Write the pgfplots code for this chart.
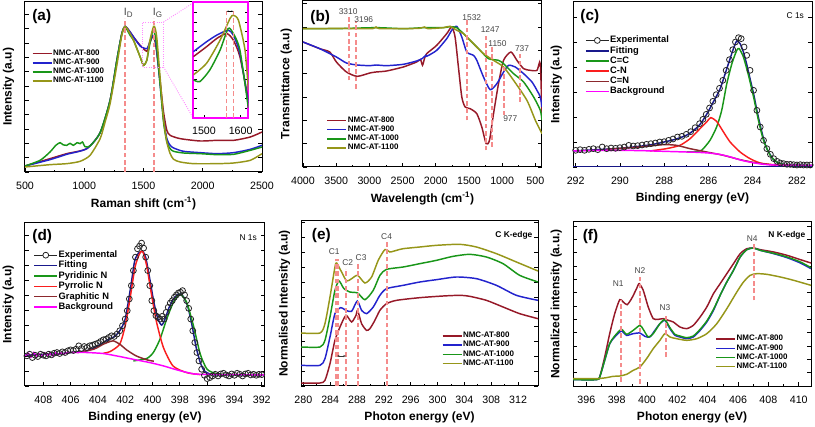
\documentclass[border=0pt]{standalone}
\usepackage{fontspec}
\setmainfont{Liberation Sans}
\usepackage{pgfplots}
\pgfplotsset{compat=1.18}
\usetikzlibrary{arrows.meta}

\definecolor{c800}{RGB}{150,25,40}
\definecolor{c900}{RGB}{35,35,205}
\definecolor{c1000}{RGB}{25,150,25}
\definecolor{c1100}{RGB}{150,150,25}
\definecolor{fitc}{RGB}{25,25,140}
\definecolor{cnred}{RGB}{250,30,30}
\definecolor{cnbrown}{RGB}{140,40,45}
\definecolor{bgmag}{RGB}{255,0,255}
\definecolor{dashc}{RGB}{245,140,140}
\definecolor{annc}{RGB}{70,70,70}

\tikzset{
  plab/.style={font=\bfseries\fontsize{11.5}{12}\selectfont, inner sep=0pt, anchor=west},
  ann/.style={font=\fontsize{6.3}{7}\selectfont, text=annc, inner sep=0.5pt},
}
\pgfplotsset{
  panel/.style={
    scale only axis, anchor=north west, clip=true,
    axis line style={line width=0.75pt},
    tick align=inside, xtick pos=left, ytick pos=both,
    major tick length=3.2pt, minor tick length=1.8pt,
    every tick/.append style={black, line width=0.5pt},
    yticklabels={},
    ticklabel style={font=\fontsize{8}{9}\selectfont},
    xticklabel style={anchor=center, yshift=-10pt},
    /pgf/number format/assume math mode=true,
    /pgf/number format/1000 sep={},
    xlabel style={font=\bfseries\fontsize{9}{10}\selectfont, at={(rel axis cs:0.5,0)}, anchor=center, yshift=-23.5pt},
    ylabel style={font=\bfseries\fontsize{9}{10}\selectfont, at={(rel axis cs:-0.07,0.5)}, anchor=center},
    legend style={draw=none, fill=none, font=\bfseries\fontsize{6}{6.5}\selectfont,
      row sep=0pt, inner sep=0pt, nodes={inner sep=0.6pt}},
    legend cell align=left,
    legend image code/.code={\draw[#1] (0cm,0cm) -- (0.5cm,0cm);},
    every axis plot/.append style={line width=1.1pt, smooth, tension=0.4},
  },
  dl/.style={dashc, dash pattern=on 3.5pt off 2pt, line width=1.5pt, forget plot, sharp plot},
  expt/.style={black!85, only marks, mark=o, mark size=2.2pt, mark options={line width=0.6pt},
    legend image code/.code={\draw[black!85, line width=0.8pt] (0cm,0cm) -- (0.6cm,0cm);
      \draw[black!85, line width=0.6pt, fill=white] (0.3cm,0cm) circle (2.2pt);}},
}

\begin{document}
\begin{tikzpicture}
\useasboundingbox (0,0) rectangle (611.25pt,-320.25pt);

% ---------------- (a) Raman ----------------
\begin{axis}[panel, at={(18.75pt,-1.5pt)}, width=177.75pt, height=127.5pt,
  xmin=500, xmax=2500, ymin=0, ymax=510,
  xtick={500,1000,...,2500}, minor x tick num=1, ytick distance=43,
  xlabel={Raman shift (cm\textsuperscript{-1})}, ylabel={Intensity (a.u)},
  legend style={at={(rel axis cs:0.028,0.725)}, anchor=north west}]
\addplot[c800] coordinates {(500,18)(711,40)(852,55)(1021,70)(1134,118)(1218,215)(1275,335)(1317,415)(1345,437)(1387,420)(1416,405)(1472,380)(1528,362)(1551,385)(1579,407)(1599,390)(1613,355)(1641,270)(1669,180)(1697,125)(1725,110)(1810,100)(1979,93)(2120,95)(2261,95)(2401,105)(2500,120)};
\addplot[c900] coordinates {(500,18)(711,37)(852,53)(1021,70)(1134,118)(1218,215)(1275,335)(1317,415)(1345,437)(1387,420)(1416,405)(1472,378)(1528,370)(1551,388)(1579,410)(1599,395)(1613,360)(1641,260)(1669,160)(1697,100)(1725,80)(1754,72)(1838,62)(1979,58)(2120,55)(2261,58)(2401,68)(2500,80)};
\addplot[c1000] coordinates {(500,18)(627,35)(711,60)(760,80)(796,88)(820,82)(852,80)(880,86)(908,80)(940,88)(965,85)(985,90)(1007,76)(1049,78)(1134,118)(1218,215)(1275,335)(1317,415)(1345,435)(1387,410)(1416,395)(1472,345)(1500,320)(1528,335)(1551,380)(1579,425)(1599,410)(1613,370)(1641,260)(1669,150)(1697,90)(1725,70)(1754,62)(1838,57)(1979,55)(2120,52)(2261,53)(2401,65)(2500,75)};
\addplot[c1100] coordinates {(500,15)(711,22)(852,25)(965,32)(1049,50)(1134,100)(1176,150)(1218,205)(1275,320)(1317,410)(1345,437)(1387,415)(1416,395)(1472,345)(1500,320)(1528,335)(1551,390)(1585,437)(1599,430)(1613,400)(1641,280)(1669,160)(1697,90)(1725,55)(1754,38)(1810,30)(1923,25)(2120,25)(2261,27)(2401,35)(2500,55)};
\legend{NMC-AT-800,NMC-AT-900,NMC-AT-1000,NMC-AT-1100}
\addplot[dl] coordinates {(1345,0)(1345,462)};
\addplot[dl] coordinates {(1585,0)(1585,462)};
\node[ann, font=\fontsize{8}{9}\selectfont] at (axis cs:1375,478) {I\textsubscript{D}};
\node[ann, font=\fontsize{8}{9}\selectfont] at (axis cs:1620,478) {I\textsubscript{G}};
\draw[bgmag!45, densely dotted, line width=0.7pt] (axis cs:1494,315) rectangle (axis cs:1669,450);
\draw[bgmag!45, densely dotted, line width=0.7pt] (axis cs:1669,450) -- (axis cs:1923,508);
\draw[bgmag!45, densely dotted, line width=0.7pt] (axis cs:1669,315) -- (axis cs:1923,160);
\node[plab] at (rel axis cs:0.03,0.915) {(a)};
\end{axis}

% inset of (a)
\begin{axis}[panel, at={(145pt,-1.5pt)}, width=41.25pt, height=87pt,
  axis line style={bgmag, line width=1.4pt}, axis background/.style={fill=white},
  xmin=1471, xmax=1621, ymin=0, ymax=350, xtick={1500,1600}, ytick distance=29,
  major tick length=2.5pt]
\addplot[c800] coordinates {(1471,185)(1507,215)(1535,240)(1562,255)(1580,235)(1598,185)(1621,55)};
\addplot[c900] coordinates {(1471,200)(1507,230)(1535,250)(1566,265)(1580,250)(1598,195)(1621,45)};
\addplot[c1000] coordinates {(1471,115)(1489,110)(1516,145)(1544,205)(1566,270)(1580,255)(1598,205)(1621,30)};
\addplot[c1100] coordinates {(1471,130)(1507,165)(1544,235)(1571,300)(1580,310)(1594,295)(1612,205)(1621,85)};
\addplot[dl, line width=1.1pt] coordinates {(1562,0)(1562,330)};
\addplot[dl, line width=1.1pt] coordinates {(1580,0)(1580,330)};
\draw[{Stealth[length=1.5pt]}-{Stealth[length=1.5pt]}, line width=0.5pt] (axis cs:1562,322) -- (axis cs:1580,322);
\end{axis}

% ---------------- (b) FTIR ----------------
\begin{axis}[panel, at={(227.25pt,-0.75pt)}, width=179.25pt, height=124.5pt,
  xmin=400, xmax=4000, x dir=reverse, ymin=0, ymax=498,
  xtick={500,1000,...,4000}, minor x tick num=1, ytick distance=70,
  xlabel={Wavelength (cm\textsuperscript{-1})}, ylabel={Transmittance (a.u)},
  legend style={at={(rel axis cs:0.098,0.31)}, anchor=north west}]
\addplot[c800] coordinates {(4000,375)(3748,355)(3597,345)(3497,315)(3346,285)(3184,272)(2993,282)(2900,285)(2741,288)(2490,300)(2288,315)(2230,322)(2200,305)(2170,325)(2137,340)(1986,365)(1835,400)(1760,420)(1709,390)(1659,300)(1608,210)(1558,180)(1483,175)(1382,160)(1307,120)(1241,70)(1191,80)(1130,160)(1055,250)(979,320)(868,345)(778,320)(677,295)(576,290)(476,290)(435,315)(420,290)(400,150)};
\addplot[c900] coordinates {(4000,375)(3748,355)(3497,330)(3346,312)(3184,306)(2993,304)(2900,306)(2741,304)(2490,308)(2288,318)(2200,326)(2150,335)(2137,332)(1986,350)(1835,385)(1760,410)(1684,422)(1608,390)(1533,345)(1432,335)(1382,320)(1281,270)(1181,232)(1080,250)(979,285)(904,305)(803,300)(677,280)(551,255)(476,230)(425,210)(400,180)};
\addplot[c1000] coordinates {(4000,415)(3497,415)(2900,418)(2490,415)(2170,418)(1885,418)(1785,421)(1684,418)(1583,400)(1483,380)(1332,350)(1206,325)(1055,320)(979,310)(828,280)(677,255)(526,210)(425,170)(400,140)};
\addplot[c1100] coordinates {(4000,415)(3748,415)(3497,416)(3200,415)(2950,415)(2900,420)(2850,415)(2490,415)(2250,416)(2170,420)(2120,415)(1885,418)(1785,422)(1684,410)(1583,400)(1432,370)(1281,340)(1130,320)(979,300)(828,260)(627,200)(500,140)(400,100)};
\legend{NMC-AT-800,NMC-AT-900,NMC-AT-1000,NMC-AT-1100}
\addplot[dl] coordinates {(3310,260)(3310,455)};
\addplot[dl] coordinates {(3196,235)(3196,438)};
\addplot[dl] coordinates {(1532,140)(1532,440)};
\addplot[dl] coordinates {(1247,50)(1247,400)};
\addplot[dl] coordinates {(1150,60)(1150,360)};
\addplot[dl] coordinates {(977,155)(977,305)};
\addplot[dl] coordinates {(737,195)(737,340)};
\node[ann] at (axis cs:3320,466) {3310};
\node[ann] at (axis cs:3084,441) {3196};
\node[ann] at (axis cs:1457,449) {1532};
\node[ann] at (axis cs:1181,413) {1247};
\node[ann] at (axis cs:1070,371) {1150};
\node[ann] at (axis cs:700,356) {737};
\node[ann] at (axis cs:878,146) {977};
\node[plab] at (rel axis cs:0.03,0.9) {(b)};
\end{axis}

% ---------------- (c) C 1s ----------------
\begin{axis}[panel, at={(429.75pt,-1.5pt)}, width=179.25pt, height=123.75pt,
  xmin=281.32, xmax=292.12, x dir=reverse, ymin=0, ymax=495,
  xtick={282,284,...,292}, minor x tick num=1, ytick distance=75,
  xlabel={Binding energy (eV)}, ylabel={Intensity (a.u)},
  legend style={at={(rel axis cs:0.05,0.80)}, anchor=north west, font=\bfseries\fontsize{7}{7.6}\selectfont},
  legend image code/.code={\draw[#1] (0cm,0cm) -- (0.6cm,0cm);}]
\addplot[expt] coordinates {(292.0,50)(291.8,52)(291.6,50)(291.4,53)(291.2,55)(291.0,52)(290.8,60)(290.6,55)(290.4,57)(290.2,56)(290.0,58)(289.8,60)(289.6,65)(289.4,63)(289.2,64)(289.0,66)(288.8,68)(288.6,70)(288.4,72)(288.2,75)(288.0,76)(287.8,80)(287.6,84)(287.4,90)(287.2,92)(287.0,98)(286.8,106)(286.6,118)(286.4,130)(286.25,143)(286.1,158)(285.95,177)(285.8,197)(285.65,217)(285.5,236)(285.35,260)(285.2,290)(285.05,322)(284.9,352)(284.78,375)(284.64,388)(284.52,385)(284.39,360)(284.27,335)(284.12,290)(283.96,230)(283.81,170)(283.66,120)(283.51,80)(283.36,55)(283.2,38)(283.05,25)(282.9,17)(282.75,12)(282.6,10)(282.45,8)(282.3,8)(282.15,7)(282.0,6)(281.85,7)(281.7,6)(281.55,6)(281.4,6)};
\addlegendentry{Experimental}
\addplot[fitc] coordinates {(292.12,48)(291,52)(290,56)(289,63)(288.5,68)(288,75)(287.5,83)(287,95)(286.7,108)(286.38,128)(286.08,158)(285.78,195)(285.47,235)(285.17,295)(284.87,355)(284.72,378)(284.57,370)(284.42,345)(284.27,308)(284.12,265)(283.96,220)(283.81,170)(283.66,125)(283.51,85)(283.36,55)(283.06,22)(282.76,10)(282.3,6)(281.32,5)};
\addlegendentry{Fitting}
\addplot[c1000] coordinates {(287.0,45)(286.6,46)(286.31,50)(285.93,80)(285.63,120)(285.4,170)(285.17,250)(284.94,310)(284.72,350)(284.61,355)(284.42,330)(284.19,275)(283.96,210)(283.74,140)(283.51,80)(283.21,35)(282.91,15)(282.45,5)(281.32,4)};
\addlegendentry{C=C}
\addplot[cnred] coordinates {(288.65,48)(287.9,55)(287.29,65)(286.83,85)(286.38,115)(286.08,135)(285.9,148)(285.63,137)(285.32,105)(285.02,75)(284.57,45)(284.12,25)(283.66,12)(283.06,7)(282.3,5)};
\addlegendentry{C-N}
\addplot[cnbrown] coordinates {(290.61,53)(289.10,60)(288.04,67)(287.44,65)(286.83,55)(286.08,45)(285.32,35)(284.57,22)(283.81,12)(283.06,6)(282.5,5)};
\addlegendentry{C=N}
\addplot[bgmag] coordinates {(292.12,48)(291,50)(290,50)(289,49)(288,47)(287,45)(286.5,44)(286,42)(285.5,38)(285,30)(284.5,20)(284,13)(283.5,8)(283,6)(281.32,5)};
\addlegendentry{Background}
\addplot[c900, forget plot, line width=0.7pt] coordinates {(292.12,3)(281.32,3)};
\node[ann, text=black, anchor=east] at (rel axis cs:0.97,0.92) {C 1s};
\node[plab] at (rel axis cs:0.03,0.91) {(c)};
\end{axis}

% ---------------- (d) N 1s ----------------
\begin{axis}[panel, at={(18.75pt,-167.25pt)}, width=180pt, height=122.25pt,
  xmin=391.76, xmax=409.34, x dir=reverse, ymin=0, ymax=487,
  xtick={392,394,...,408}, minor x tick num=1, ytick distance=45,
  xlabel={Binding energy (eV)}, ylabel={Intensity (a.u)},
  legend style={at={(rel axis cs:0.035,0.836)}, anchor=north west, font=\bfseries\fontsize{7}{7.6}\selectfont},
  legend image code/.code={\draw[#1] (0cm,0cm) -- (0.6cm,0cm);}]
\addplot[expt] coordinates {(409.2,90)(409.0,95)(408.8,85)(408.6,92)(408.4,88)(408.2,95)(408.0,92)(407.8,90)(407.6,95)(407.4,93)(407.2,98)(407.0,100)(406.8,97)(406.6,102)(406.4,100)(406.2,105)(406.0,108)(405.8,106)(405.6,110)(405.4,120)(405.2,112)(405.0,118)(404.8,115)(404.6,120)(404.4,122)(404.2,125)(404.0,128)(403.8,133)(403.6,138)(403.4,140)(403.2,145)(403.0,150)(402.8,148)(402.6,155)(402.4,165)(402.2,180)(402.0,200)(401.85,225)(401.7,260)(401.55,300)(401.4,345)(401.25,385)(401.1,410)(400.95,418)(400.8,427)(400.65,412)(400.5,385)(400.35,345)(400.2,300)(400.05,255)(399.9,225)(399.75,210)(399.6,205)(399.45,200)(399.3,208)(399.15,200)(399.0,220)(398.85,235)(398.7,248)(398.55,255)(398.4,265)(398.25,272)(398.1,278)(397.95,280)(397.8,285)(397.65,272)(397.5,255)(397.35,232)(397.2,200)(397.05,165)(396.9,130)(396.75,100)(396.6,75)(396.4,50)(396.2,32)(396.0,22)(395.8,25)(395.6,30)(395.4,35)(395.2,30)(395.0,36)(394.8,38)(394.6,33)(394.4,30)(394.2,36)(394.0,32)(393.8,38)(393.6,35)(393.4,30)(393.2,36)(393.0,38)(392.8,33)(392.6,35)(392.4,32)(392.2,35)(392.0,34)};
\addlegendentry{Experimental}
\addplot[fitc] coordinates {(409.34,92)(407,96)(406,100)(404.8,105)(404,120)(403.2,140)(402.8,147)(402.4,165)(402.0,200)(401.6,295)(401.3,375)(401.0,398)(400.72,402)(400.5,385)(400.2,320)(399.9,250)(399.6,200)(399.33,182)(399.1,198)(398.8,233)(398.5,258)(398.2,272)(397.95,275)(397.7,265)(397.4,235)(397.1,180)(396.8,115)(396.5,70)(396.2,45)(395.8,36)(395.3,33)(391.76,33)};
\addlegendentry{Fitting}
\addplot[c1000] coordinates {(401.4,75)(400.43,82)(399.94,100)(399.45,140)(398.96,200)(398.47,250)(397.99,274)(397.5,250)(397.0,180)(396.5,95)(396.0,50)(395.3,37)(394.0,33)};
\addlegendentry{Pyridinic N}
\addplot[cnred] coordinates {(403.6,98)(403.1,103)(402.4,125)(402.0,180)(401.65,260)(401.28,355)(400.95,395)(400.72,402)(400.43,360)(400.06,270)(399.7,190)(399.2,115)(398.5,60)(397.5,40)(396.5,34)};
\addlegendentry{Pyrrolic N}
\addplot[cnbrown] coordinates {(405.5,100)(404.3,110)(403.6,125)(403.1,133)(402.87,135)(402.4,125)(401.9,108)(401.2,90)(400.4,78)(399.9,74)};
\addlegendentry{Graphitic N}
\addplot[bgmag] coordinates {(409.3,90)(409.1,98)(408.9,86)(408.7,100)(408.5,90)(408.3,96)(408.1,88)(407.9,99)(407.7,92)(407.5,97)(407.3,90)(407.1,100)(406.9,94)(406.7,99)(406.5,95)(406.3,100)(405.5,100)(404.8,100)(403.6,97)(402.4,88)(401.2,78)(400.2,70)(399.2,60)(398.2,48)(397.2,38)(396.5,35)(391.76,33)};
\addlegendentry{Background}
\node[ann, text=black, anchor=east] at (rel axis cs:0.97,0.91) {N 1s};
\node[plab] at (rel axis cs:0.03,0.92) {(d)};
\end{axis}

% ---------------- (e) C K-edge ----------------
\begin{axis}[panel, at={(225.75pt,-165.75pt)}, width=177.75pt, height=123.75pt,
  xmin=279.65, xmax=314.97, ymin=0, ymax=495,
  xtick={280,284,...,312}, minor x tick num=1, ytick distance=44.5,
  xlabel={Photon energy (eV)}, ylabel={Normalised Intensity (a.u)},
  legend style={at={(rel axis cs:0.593,0.333)}, anchor=north west}]
\addplot[c800] coordinates {(279.65,9)(282.48,9)(283.22,17)(283.97,67)(284.71,137)(285.46,177)(286.35,212)(287.19,192)(287.84,212)(288.09,227)(288.68,187)(289.42,167)(289.92,172)(290.66,197)(291.41,227)(292.40,247)(293.89,257)(297.36,265)(300.83,270)(303.31,272)(304.80,269)(307.28,257)(309.76,237)(312.24,217)(314.97,202)};
\addplot[c900] coordinates {(279.65,62)(282.48,62)(283.22,82)(283.97,147)(284.71,217)(285.56,235)(286.35,227)(287.19,224)(288.04,255)(288.68,227)(289.42,217)(290.42,237)(291.41,272)(292.40,292)(294.88,302)(297.36,312)(299.84,319)(302.82,327)(305.79,322)(308.77,302)(311.75,272)(314.97,257)};
\addplot[c1000] coordinates {(279.65,117)(282.48,117)(283.22,137)(283.97,207)(284.71,287)(285.31,315)(286.05,292)(286.94,282)(288.09,279)(289.18,259)(290.42,287)(291.41,332)(292.40,350)(294.88,357)(297.36,367)(299.84,377)(302.32,389)(304.80,395)(307.28,387)(309.76,367)(312.24,332)(314.97,312)};
\addplot[c1100] coordinates {(279.65,159)(282.48,159)(283.22,187)(283.97,267)(284.71,357)(284.96,369)(285.70,342)(286.45,315)(287.19,322)(288.09,332)(289.18,309)(290.17,327)(291.16,377)(292.15,409)(292.9,402)(293.89,407)(294.88,412)(297.36,417)(299.84,422)(303.31,425)(305.79,417)(308.77,397)(311.75,372)(314.97,345)};
\legend{NMC-AT-800,NMC-AT-900,NMC-AT-1000,NMC-AT-1100}
\addplot[dl] coordinates {(284.85,0)(284.85,382)};
\addplot[dl] coordinates {(285.15,0)(285.15,382)};
\addplot[dl] coordinates {(286.35,0)(286.35,352)};
\addplot[dl] coordinates {(288.09,0)(288.09,372)};
\addplot[dl] coordinates {(292.4,0)(292.4,432)};
\draw[{Stealth[length=2pt]}-{Stealth[length=2pt]}, line width=0.5pt, black!80] (axis cs:285.0,90) -- (axis cs:286.35,90);
\node[ann] at (axis cs:284.6,402) {C1};
\node[ann] at (axis cs:286.6,370) {C2};
\node[ann] at (axis cs:288.6,385) {C3};
\node[ann] at (axis cs:292.4,447) {C4};
\node[ann, text=black, font=\bfseries\fontsize{6.3}{7}\selectfont, anchor=east] at (rel axis cs:0.98,0.91) {C K-edge};
\node[plab] at (rel axis cs:0.045,0.91) {(e)};
\end{axis}

% ---------------- (f) N K-edge ----------------
\begin{axis}[panel, at={(429.75pt,-166.5pt)}, width=178.5pt, height=123pt,
  xmin=395.12, xmax=410.81, ymin=0, ymax=492,
  xtick={396,398,...,410}, minor x tick num=1, ytick distance=40,
  xlabel={Photon energy (eV)}, ylabel={Normalized intensity (a.u.)},
  legend style={at={(rel axis cs:0.597,0.315)}, anchor=north west}]
\addplot[c800] coordinates {(395.12,22)(396.66,20)(396.88,27)(397.21,87)(397.54,157)(397.87,217)(398.2,259)(398.43,252)(398.69,244)(398.98,262)(399.31,292)(399.48,307)(399.75,287)(400.08,237)(400.41,202)(400.74,200)(401.07,202)(401.4,197)(401.73,192)(402.17,177)(402.61,172)(403.05,182)(403.5,207)(403.94,237)(404.38,277)(404.82,307)(405.26,337)(405.7,367)(406.14,397)(406.58,412)(407.02,414)(407.46,409)(408.35,402)(409.23,392)(410.11,379)(410.81,369)};
\addplot[c900] coordinates {(395.12,19)(396.66,19)(396.88,27)(397.21,77)(397.54,127)(397.87,147)(398.31,165)(398.65,152)(399.09,157)(399.53,159)(399.86,149)(400.19,147)(400.52,167)(400.85,187)(401.18,197)(401.51,172)(401.84,152)(402.17,147)(402.61,142)(403.05,147)(403.5,167)(403.94,192)(404.38,227)(404.82,272)(405.26,312)(405.7,347)(406.14,387)(406.58,409)(407.02,414)(407.46,407)(408.35,397)(409.23,385)(410.11,369)(410.81,352)};
\addplot[c1000] coordinates {(395.12,19)(396.66,19)(396.88,27)(397.21,77)(397.54,127)(397.87,150)(398.31,170)(398.65,155)(399.09,167)(399.53,182)(399.75,170)(400.08,147)(400.41,157)(400.85,187)(401.18,199)(401.51,175)(401.84,155)(402.17,150)(402.61,145)(403.05,150)(403.5,170)(403.94,195)(404.38,230)(404.82,272)(405.26,312)(405.7,347)(406.14,387)(406.58,409)(407.02,414)(407.46,407)(408.35,398)(409.23,387)(410.11,372)(410.81,355)};
\addplot[c1100] coordinates {(395.12,22)(396.66,22)(397.32,25)(397.76,29)(398.2,30)(398.65,35)(399.09,47)(399.53,57)(399.97,82)(400.41,112)(400.85,137)(401.18,157)(401.51,147)(401.95,142)(402.61,137)(403.28,142)(403.94,157)(404.6,187)(405.26,232)(405.92,282)(406.36,312)(406.8,332)(407.24,337)(407.9,335)(408.79,327)(409.67,317)(410.81,302)};
\legend{NMC-AT-800,NMC-AT-900,NMC-AT-1000,NMC-AT-1100}
\addplot[dl] coordinates {(398.31,12)(398.31,257)};
\addplot[dl] coordinates {(399.53,7)(399.53,327)};
\addplot[dl] coordinates {(401.22,87)(401.22,217)};
\addplot[dl] coordinates {(407.02,257)(407.02,432)};
\node[ann] at (axis cs:398.1,307) {N1};
\node[ann] at (axis cs:399.53,345) {N2};
\node[ann] at (axis cs:401.18,235) {N3};
\node[ann] at (axis cs:406.94,442) {N4};
\node[ann, text=black, font=\bfseries\fontsize{6.3}{7}\selectfont, anchor=east] at (rel axis cs:0.98,0.92) {N K-edge};
\node[plab] at (rel axis cs:0.04,0.91) {(f)};
\end{axis}
\end{tikzpicture}
\end{document}
